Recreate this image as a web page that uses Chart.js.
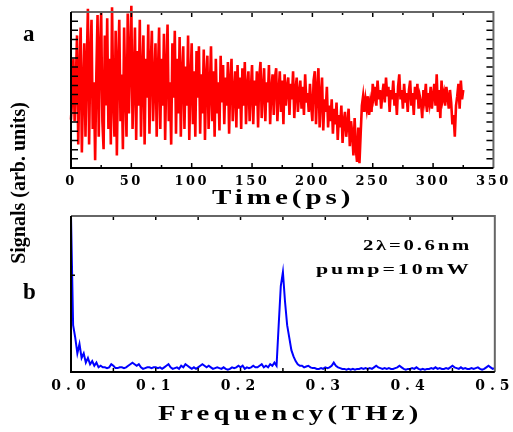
<!DOCTYPE html>
<html>
<head>
<meta charset="utf-8">
<script src="https://cdn.jsdelivr.net/npm/chart.js@4.4.1/dist/chart.umd.min.js"></script>
<style>
  body { margin: 0; background: #fff; }
  #wrap { position: relative; width: 513px; height: 432px; overflow: hidden; font-family: 'Liberation Serif', serif; font-weight: bold; color: #000; }
  canvas { position: absolute; left: 0; }
  .lbl { position: absolute; white-space: nowrap; line-height: 1; }
</style>
</head>
<body>
<div id="wrap">
  <canvas id="timeChart" width="513" height="212" style="top:0"></canvas>
  <canvas id="freqChart" width="513" height="220" style="top:212px"></canvas>
  <div class="lbl" style="left:23px; top:22px; font-size:23px;">a</div>
  <div class="lbl" style="left:23px; top:280px; font-size:23px;">b</div>
  <div class="lbl" style="left:18px; top:183px; font-size:20px; transform: translate(-50%,-50%) rotate(-90deg);">Signals (arb. units)</div>
  <div class="lbl" style="left:212px; top:186px; font-size:22px; letter-spacing:3px; transform-origin:left top; transform: scaleX(1.32);">Time(ps)</div>
  <div class="lbl" style="left:158px; top:403px; font-size:20px; letter-spacing:3px; transform-origin:left top; transform: scaleX(1.44);">Frequency(THz)</div>
  <div class="lbl" style="right:41px; top:238px; font-size:15px; letter-spacing:2px; transform-origin:right top; transform: scaleX(1.38);">2λ=0.6nm</div>
  <div class="lbl" style="right:41px; top:262px; font-size:15px; letter-spacing:2px; transform-origin:right top; transform: scaleX(1.46);">pump=10mW</div>
</div>
<script>
// panel a: time trace, one sample per ps starting at 0 ps
const timeStep = 1;
const signal = [
  31, 45, 70, 30, 55, 85, 15, 60, 90, 10,
  50, 80, 20, 65, 102, 15, 70, 95, 25, 55,
  5, 60, 98, 20, 75, 100, 30, 12, 85, 40,
  96, 25, 70, 15, 103, 45, 20, 88, 8, 65,
  95, 30, 60, 12, 90, 50, 20, 99, 35, 70,
  104, 25, 55, 90, 18, 75, 40, 95, 20, 60,
  85, 15, 70, 45, 92, 22, 65, 88, 30, 55,
  80, 20, 60, 90, 25, 70, 40, 86, 18, 62,
  92, 30, 55, 15, 80, 45, 88, 22, 70, 35,
  84, 20, 60, 78, 25, 65, 40, 85, 18, 55,
  80, 28, 62, 20, 75, 45, 78, 22, 60, 35,
  76, 18, 58, 72, 25, 50, 78, 30, 62, 20,
  70, 35, 55, 24, 72, 42, 66, 28, 58, 40,
  68, 22, 55, 70, 30, 48, 62, 26, 66, 38,
  58, 25, 64, 40, 68, 28, 52, 62, 30, 50,
  66, 28, 56, 40, 62, 26, 58, 68, 32, 50,
  64, 30, 55, 42, 66, 28, 50, 60, 34, 58,
  64, 30, 48, 62, 36, 56, 28, 60, 40, 52,
  58, 34, 54, 44, 62, 32, 50, 58, 36, 48,
  56, 38, 52, 34, 60, 42, 48, 36, 54, 40,
  30, 56, 62, 28, 50, 64, 26, 46, 58, 24,
  44, 36, 52, 26, 40, 30, 44, 22, 38, 28,
  42, 18, 34, 26, 40, 16, 30, 36, 20, 28,
  38, 14, 30, 22, 8, 32, 12, 4, 26, 3,
  22, 40, 46, 36, 44, 38, 46, 34, 42, 36,
  54, 46, 52, 40, 56, 44, 50, 38, 48, 54,
  42, 58, 46, 52, 36, 50, 44, 56, 40, 48,
  34, 52, 60, 44, 50, 38, 54, 42, 48, 36,
  50, 56, 40, 48, 34, 52, 44, 54, 38, 46,
  42, 32, 50, 44, 54, 36, 48, 42, 52, 38,
  46, 54, 40, 60, 36, 50, 32, 56, 44, 48,
  40, 52, 46, 38, 50, 42, 28, 34, 20, 40,
  46, 54, 38, 56, 44, 50
];
const timeTicks = [0, 50, 100, 150, 200, 250, 300, 350];

// panel b: spectrum, one sample every 0.0025 THz starting at 0
const freqStep = 0.0025;
const spectrum = [
  100, 30, 22, 12, 18, 9, 12, 6, 9, 5,
  7, 4, 6, 3, 4, 3, 3, 2.5, 3, 5,
  4, 2.5, 2.5, 3, 3, 2.5, 3, 4, 5, 6,
  5, 4, 5, 3, 2, 2.5, 3, 3, 2.5, 3,
  3, 2.5, 3, 2, 3, 4, 5, 3, 2, 2.5,
  3, 2, 4, 3, 5, 4, 3, 2, 3, 2,
  3, 4, 5, 4, 3, 4, 3, 2, 2.5, 3,
  2.5, 2, 3, 2, 1.5, 2, 3, 2.5, 3, 4,
  3, 4, 2, 3, 2.5, 3, 4, 3, 3, 4,
  5, 3, 4, 3, 5, 4, 6, 4, 30, 55,
  64, 45, 30, 22, 14, 10, 7, 5, 4, 4,
  3, 3.5, 4, 3, 2.5, 2.5, 2, 2, 2.5, 2,
  3, 2.5, 3, 4, 6, 4, 3, 2.5, 2, 2,
  1.5, 2, 1.5, 2, 1.5, 2, 2, 2.5, 2, 2.5,
  2, 2.5, 2, 3, 4, 3, 2.5, 2, 2.5, 2,
  2.5, 2, 2, 2.5, 3, 4, 3, 2, 1.5, 2,
  2, 2.5, 2, 3, 2, 1.5, 2, 1.5, 2, 2,
  2.5, 2, 3, 2, 2.5, 2, 2, 2.5, 2, 3,
  4, 3, 2.5, 2, 3, 2, 2.5, 2, 2, 2.5,
  2, 2.5, 3, 2, 1.5, 2, 3, 4, 3, 2,
  2.5
];
const freqTicks = [0, 0.1, 0.2, 0.3, 0.4, 0.5];

// frame with inward tick marks on all four sides
const framePlugin = {
  id: 'frame',
  afterDatasetsDraw(chart, args, opts) {
    const { ctx, chartArea: a, scales } = chart;
    ctx.save();
    ctx.strokeStyle = '#000';
    ctx.lineWidth = 1.5;
    ctx.beginPath();
    opts.xMarks.forEach(([v, len]) => {
      const px = scales.x.getPixelForValue(v);
      ctx.moveTo(px, a.bottom); ctx.lineTo(px, a.bottom - len);
      ctx.moveTo(px, a.top); ctx.lineTo(px, a.top + len);
    });
    opts.yMarks.forEach(([v, len]) => {
      const py = scales.y.getPixelForValue(v);
      ctx.moveTo(a.left, py); ctx.lineTo(a.left + len, py);
      if (opts.right) { ctx.moveTo(a.right, py); ctx.lineTo(a.right - len, py); }
    });
    ctx.stroke();
    ctx.lineWidth = 2;
    ctx.strokeStyle = '#666';
    ctx.beginPath();
    ctx.moveTo(a.left, a.top); ctx.lineTo(a.right, a.top); ctx.lineTo(a.right, a.bottom);
    ctx.stroke();
    ctx.strokeStyle = '#000';
    ctx.beginPath();
    ctx.moveTo(a.left, a.top); ctx.lineTo(a.left, a.bottom); ctx.lineTo(a.right, a.bottom);
    ctx.stroke();
    ctx.restore();
  }
};

const spacingPlugin = {
  id: 'spacing',
  beforeDraw(chart, args, opts) { chart.ctx.letterSpacing = opts.px + 'px'; }
};

function baseOptions(xMin, xMax, tickList, fmt, pad, axisH, tickFont, spacing, xMarks, yMarks, right) {
  return {
    responsive: false,
    animation: false,
    events: [],
    layout: { padding: { left: 0, right: 17, top: pad, bottom: 0 } },
    plugins: {
      legend: { display: false },
      tooltip: { enabled: false },
      frame: { xMarks: xMarks, yMarks: yMarks, right: right },
      spacing: { px: spacing }
    },
    scales: {
      x: {
        type: 'linear', min: xMin, max: xMax,
        afterBuildTicks: s => { s.ticks = tickList.map(v => ({ value: v })); },
        afterFit: s => { s.height = axisH; },
        ticks: {
          autoSkip: false, maxRotation: 0, padding: 6, color: '#000',
          font: { family: 'DejaVu Serif', weight: 'bold', size: tickFont },
          callback: fmt
        },
        grid: { display: false, drawTicks: false },
        border: { display: false }
      },
      y: {
        min: 0, max: 100,
        afterFit: s => { s.width = 71; },
        ticks: { display: false },
        grid: { display: false, drawTicks: false },
        border: { display: false }
      }
    }
  };
}

// tick marks: x every 25 ps (longer at 50), y 16 evenly spaced marks
const timeMarks = [];
for (let v = 25; v < 350; v += 25) timeMarks.push([v, v % 50 === 0 ? 5 : 3]);
const sigMarks = [];
for (let k = 1; k <= 16; k++) sigMarks.push([k * 100 / 17, 7]);

new Chart(document.getElementById('timeChart'), {
  type: 'line',
  data: {
    datasets: [{
      data: signal.map((v, i) => ({ x: i * timeStep, y: v })),
      borderColor: 'rgb(255,0,0)',
      borderWidth: 2.6,
      pointRadius: 0,
      tension: 0,
      clip: false
    }]
  },
  options: baseOptions(0, 350, timeTicks, v => String(v), 12, 44, 13, 2.5, timeMarks, sigMarks, true),
  plugins: [framePlugin, spacingPlugin]
});

const freqMarks = [];
for (let k = 1; k < 10; k++) freqMarks.push([k * 0.05, 4]);

new Chart(document.getElementById('freqChart'), {
  type: 'line',
  data: {
    datasets: [{
      data: spectrum.map((v, i) => ({ x: i * freqStep, y: v })),
      borderColor: 'rgb(0,0,255)',
      borderWidth: 2,
      pointRadius: 0,
      tension: 0
    }]
  },
  options: baseOptions(0, 0.5, freqTicks, v => Number(v).toFixed(1), 4, 60, 14, 5, freqMarks, [[62, 4]], false),
  plugins: [framePlugin, spacingPlugin]
});
</script>
</body>
</html>
